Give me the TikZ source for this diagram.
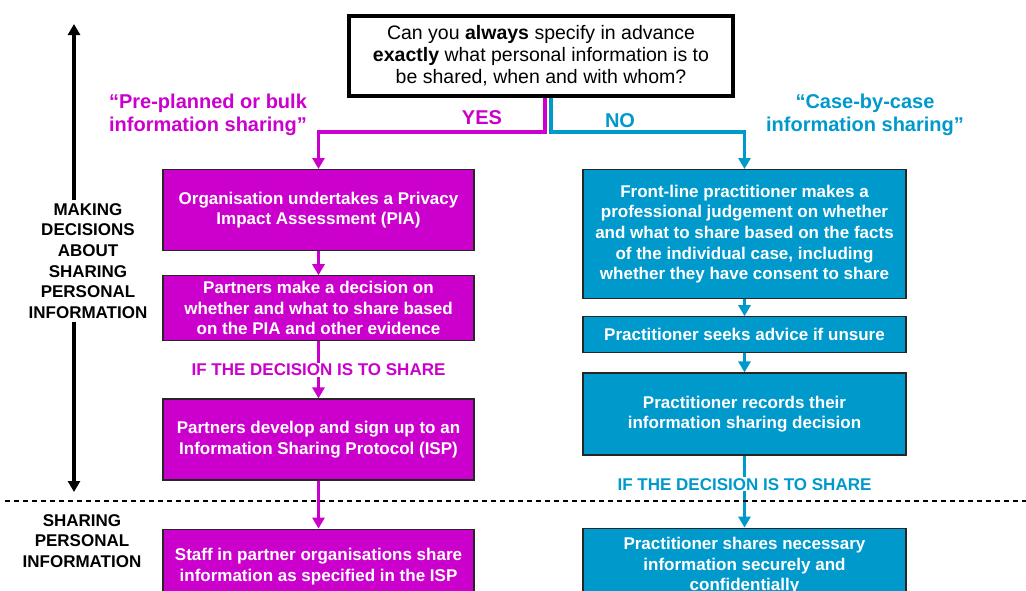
\documentclass[tikz,border=0pt]{standalone}
\usepackage{fontspec}
\setmainfont{Liberation Sans}
\usetikzlibrary{positioning, arrows.meta}
\definecolor{bulk}{HTML}{CC00CC}
\definecolor{case}{HTML}{0099CC}
\tikzset{
    >={Triangle[width=12pt,length=11pt]}, % solid triangle heads
    every node/.style={font=\bfseries\fontsize{17}{20.6}\selectfont, align=center},
    pbox/.style={draw=black!85, line width=1.2pt, fill=bulk, text=white, minimum width=311pt, inner sep=0pt}, % pre-planned steps
    bbox/.style={draw=black!85, line width=1.2pt, fill=case, text=white, minimum width=323pt, inner sep=0pt}, % case-by-case steps
    header/.style={font=\bfseries\fontsize{20}{23}\selectfont},
    side/.style={text=black, inner sep=3pt},
}
\tikzstyle{arrow} = [line width=3.5pt, ->]

\begin{document}
\begin{tikzpicture}[x=1pt, y=-1pt]
    \useasboundingbox (0,0) rectangle (1026,590);
    \clip (0,0) rectangle (1026,590);

    % the question
    \node[draw, line width=4pt, minimum width=384pt, minimum height=80pt, font=\fontsize{19.5}{22}\selectfont] (q) at (541,56)
        {Can you \textbf{always} specify in advance\\ \textbf{exactly} what personal information is to\\ be shared, when and with whom?};
    \node[header, text=bulk] (yes) at (482,118) {YES};
    \node[header, text=case] (no) at (620,121) {NO};
    \node[header, text=bulk] (bulkhead) at (208,115) {“Pre-planned or bulk\\information sharing”};
    \node[header, text=case] (casehead) at (865,115) {“Case-by-case\\information sharing”};

    % pre-planned column
    \node[pbox, minimum height=81pt, anchor=north] (pia) at (318.5,169) {Organisation undertakes a Privacy\\Impact Assessment (PIA)};
    \node[pbox, minimum height=65pt] (decide) [below=24pt of pia] {Partners make a decision on\\whether and what to share based\\on the PIA and other evidence};
    \node[pbox, minimum height=81pt] (isp) [below=57pt of decide] {Partners develop and sign up to an\\Information Sharing Protocol (ISP)};
    \node[pbox, minimum height=75pt] (staff) [below=48pt of isp] {Staff in partner organisations share\\information as specified in the ISP};

    % case-by-case column
    \node[bbox, minimum height=129pt, anchor=north] (judge) at (744.5,169) {Front-line practitioner makes a\\professional judgement on whether\\and what to share based on the facts\\of the individual case, including\\whether they have consent to share};
    \node[bbox, minimum height=36pt] (advice) [below=17pt of judge] {Practitioner seeks advice if unsure};
    \node[bbox, minimum height=82pt] (record) [below=19pt of advice] {Practitioner records their\\information sharing decision};
    \node[bbox, minimum height=75pt] (shares) [below=72pt of record] {Practitioner shares necessary\\information securely and\\confidentially};

    % connectors
    \draw[arrow, bulk] ([xshift=4pt]q.south) -- ++(0,34) -| (pia.north);
    \draw[arrow, case] ([xshift=10pt]q.south) -- ++(0,34) -| (judge.north);
    \draw[arrow, bulk] (pia) -- (decide);
    \draw[arrow, bulk] (decide) -- node[fill=white, text=bulk, inner sep=1pt] {IF THE DECISION IS TO SHARE} (isp);
    \draw[arrow, bulk, line width=3pt] (isp) -- (staff);
    \draw[arrow, case] (judge) -- (advice);
    \draw[arrow, case] (advice) -- (record);
    \draw[arrow, case, line width=3pt] (record) -- node[pos=0.4, fill=white, text=case, inner sep=1pt] {IF THE DECISION IS TO SHARE} (shares);

    % the two stages
    \draw[line width=1.2pt, dash pattern=on 5pt off 4pt] (5,501) -- (1026,501);
    \node[side] (making) at (88,261) {MAKING\\DECISIONS\\ABOUT\\SHARING\\PERSONAL\\INFORMATION};
    \node[side] (sharing) at (82,541) {SHARING\\PERSONAL\\INFORMATION};
    \coordinate (top) at (74,24);
    \coordinate (bottom) at (74,492);
    \draw[arrow] (making.north -| top) -- (top);
    \draw[arrow] (making.south -| bottom) -- (bottom);
\end{tikzpicture}
\end{document}
